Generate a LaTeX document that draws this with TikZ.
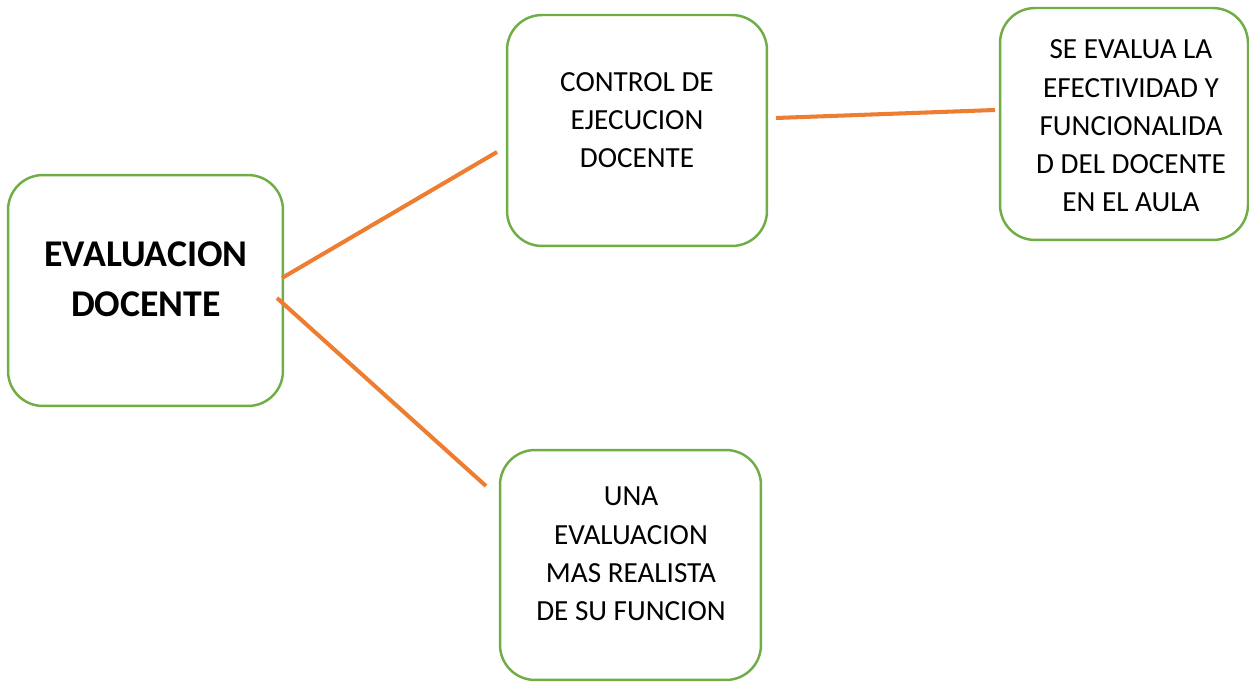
\documentclass[tikz,border=0pt]{standalone}
\usepackage{fontspec}
\setmainfont{Carlito}
\definecolor{boxgreen}{HTML}{70AD47}
\definecolor{lineorange}{HTML}{ED7D31}
\tikzset{
  cajon/.style={draw=boxgreen, line width=1.4pt, rounded corners=0.7cm, fill=white},
  texto/.style={align=center, font=\fontsize{16.6}{21.8}\selectfont},
  enlace/.style={draw=lineorange, line width=2.3pt}
}
\begin{document}
\begin{tikzpicture}[x=0.02cm, y=-0.02cm]
      \useasboundingbox (0,0) rectangle (1249,682);

      \begin{scope}[every node/.style={cajon}]
        \node[minimum width=5.5cm,  minimum height=4.62cm] (eval)    at (145.5,290.5) {};
        \node[minimum width=5.2cm,  minimum height=4.62cm] (control) at (637,130.5)   {};
        \node[minimum width=4.96cm, minimum height=4.64cm] (efect)   at (1124,124)    {};
        \node[minimum width=5.22cm, minimum height=4.6cm]  (real)    at (630.5,565)   {};
      \end{scope}

      \begin{scope}[every node/.style={texto}]
        \node[font=\fontsize{21.5}{28.4}\selectfont\bfseries] (evaltxt) at (146,279) {EVALUACION\\DOCENTE};
        \node (controltxt) at (637,120) {CONTROL DE\\EJECUCION\\DOCENTE};
        \node (efecttxt) at (1131,126) {SE EVALUA LA\\EFECTIVIDAD Y\\FUNCIONALIDA\\D DEL DOCENTE\\EN EL AULA};
        \node (realtxt) at (631,554) {UNA\\EVALUACION\\MAS REALISTA\\DE SU FUNCION};
      \end{scope}

      \coordinate (e1) at (282,278);
      \coordinate (c0) at (497,152);
      \coordinate (e2) at (277,298);
      \coordinate (r0) at (486,486);
      \coordinate (c1) at (776,118);
      \coordinate (f0) at (995,110);

      \begin{scope}[every edge/.style={enlace}]
        \path (e1) edge (c0);
        \path (e2) edge (r0);
        \path (c1) edge (f0);
      \end{scope}

    \end{tikzpicture}
\end{document}
